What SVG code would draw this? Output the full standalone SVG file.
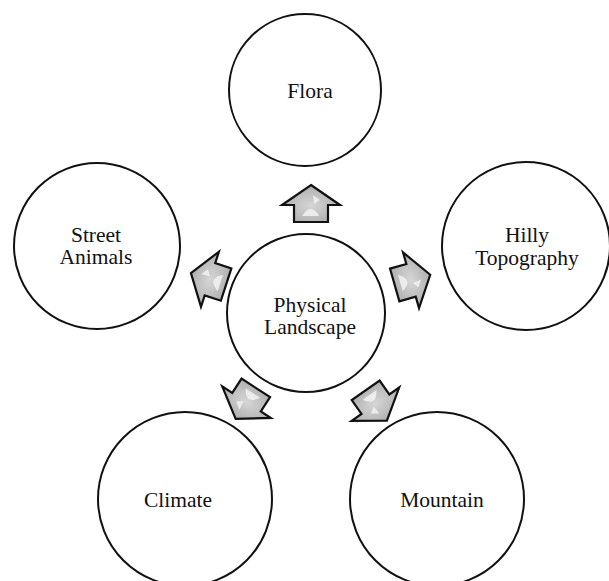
<svg xmlns="http://www.w3.org/2000/svg" width="609" height="581" viewBox="0 0 609 581">
  <style>
    .node circle { fill: #ffffff; stroke: #111111; stroke-width: 2; }
    .label { font-family: "Liberation Serif", "Times New Roman", serif; font-size: 21.5px; fill: #111111; text-anchor: middle; }
    .arrow-body { fill: url(#arrowFill); stroke: #111111; stroke-width: 2.2; stroke-linejoin: miter; }
    .arrow-glint { fill: #f2f2f2; opacity: 0.85; }
  </style>
  <defs>
    <radialGradient id="arrowFill" cx="0.5" cy="0.55" r="0.6">
      <stop offset="0" stop-color="#d6d6d6"/>
      <stop offset="1" stop-color="#a9a9a9"/>
    </radialGradient>
    <!-- house-shaped block arrow pointing up, centred on the origin -->
    <g id="blockArrow">
      <path class="arrow-body" d="M0,-19 L29,1 L17,1 L17,18 L-17,18 L-17,1 L-29,1 Z"/>
      <path class="arrow-glint" d="M2,-9 L9,-4 L3,0 Z"/>
      <path class="arrow-glint" d="M-9,12 Q-4,4 1,5 Q6,7 8,12 Z"/>
    </g>
  </defs>

  <g id="connectors">
    <use href="#blockArrow" transform="translate(311,204)"/>
    <use href="#blockArrow" transform="translate(209,279) rotate(-72)"/>
    <use href="#blockArrow" transform="translate(412,280) rotate(74)"/>
    <use href="#blockArrow" transform="translate(246,403) rotate(-147)"/>
    <use href="#blockArrow" transform="translate(376,405) rotate(145)"/>
  </g>

  <g id="node-physical-landscape" class="node">
    <circle cx="306" cy="313" r="79"/>
    <text class="label" x="310" y="312">Physical</text>
    <text class="label" x="310" y="334">Landscape</text>
  </g>

  <g id="node-flora" class="node">
    <circle cx="305" cy="90" r="76"/>
    <text class="label" x="310" y="98">Flora</text>
  </g>

  <g id="node-street-animals" class="node">
    <circle cx="97" cy="246" r="83"/>
    <text class="label" x="96" y="242">Street</text>
    <text class="label" x="96" y="264">Animals</text>
  </g>

  <g id="node-hilly-topography" class="node">
    <circle cx="526" cy="246" r="84"/>
    <text class="label" x="527" y="242">Hilly</text>
    <text class="label" x="527" y="265">Topography</text>
  </g>

  <g id="node-climate" class="node">
    <circle cx="185" cy="499" r="87"/>
    <text class="label" x="178" y="507">Climate</text>
  </g>

  <g id="node-mountain" class="node">
    <circle cx="437" cy="499" r="87"/>
    <text class="label" x="442" y="507">Mountain</text>
  </g>
</svg>
